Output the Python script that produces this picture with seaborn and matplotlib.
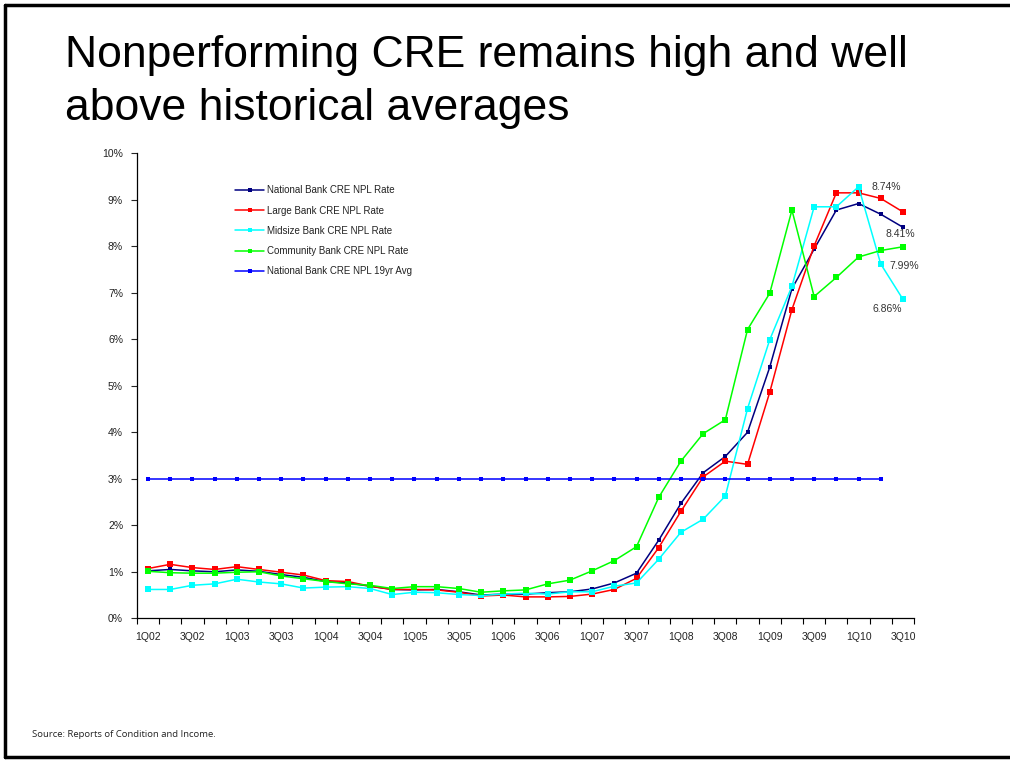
import numpy as np
import pandas as pd
import seaborn as sns
import matplotlib.pyplot as plt
from matplotlib.ticker import FixedLocator, FuncFormatter
from matplotlib.lines import Line2D

# --- data ---
quarters = [f"{q}Q{y:02d}" for y in range(2, 11) for q in range(1, 5)][:35]

national = [1.02, 1.05, 1.02, 1.00, 1.04, 1.01, 0.94, 0.88, 0.79, 0.76, 0.69, 0.62, 0.61,
            0.62, 0.57, 0.50, 0.52, 0.52, 0.55, 0.57, 0.63, 0.76, 0.97, 1.68,
            2.47, 3.13, 3.48, 4.00, 5.40, 7.09, 7.94, 8.78, 8.92, 8.69, 8.41]
large = [1.07, 1.16, 1.09, 1.05, 1.11, 1.05, 0.99, 0.93, 0.81, 0.79, 0.69, 0.62, 0.62,
         0.61, 0.56, 0.48, 0.50, 0.46, 0.46, 0.47, 0.52, 0.62, 0.86, 1.52,
         2.30, 3.04, 3.38, 3.31, 4.86, 6.64, 8.01, 9.15, 9.15, 9.03, 8.74]
midsize = [0.62, 0.62, 0.71, 0.74, 0.84, 0.78, 0.74, 0.65, 0.67, 0.68, 0.64, 0.51, 0.56,
           0.55, 0.51, 0.49, 0.52, 0.54, 0.52, 0.57, 0.57, 0.69, 0.76, 1.27,
           1.85, 2.13, 2.63, 4.51, 5.99, 7.14, 8.85, 8.85, 9.28, 7.62, 6.86]
community = [1.01, 0.98, 0.97, 0.97, 0.99, 1.00, 0.91, 0.85, 0.79, 0.74, 0.71, 0.64, 0.68,
             0.68, 0.64, 0.56, 0.59, 0.61, 0.74, 0.82, 1.02, 1.24, 1.54, 2.60,
             3.38, 3.97, 4.27, 6.21, 6.99, 8.78, 6.92, 7.33, 7.77, 7.91, 7.99]
avg_19yr = [3.0] * 34 + [np.nan]

series_names = ["National Bank CRE NPL Rate", "Large Bank CRE NPL Rate",
                "Midsize Bank CRE NPL Rate", "Community Bank CRE NPL Rate",
                "National Bank CRE NPL 19yr Avg"]
end_labels = ["8.74%", "8.41%", "7.99%", "6.86%"]
title_lines = ["Nonperforming CRE remains high and well", "above historical averages"]

# --- styling ---
sns.set_style("ticks")
plt.rcParams['font.family'] = ['Liberation Sans', 'DejaVu Sans']

colores = ["#000080", "#FF0000", "#00FFFF", "#00FF00", "#0000FF"]
tam_marcador = [3.0, 4.5, 4.5, 4.0, 3.5]
valores = [national, large, midsize, community, avg_19yr]

x = np.arange(len(quarters))
df = pd.DataFrame({"x": np.tile(x, 5),
                   "valor": np.concatenate(valores),
                   "serie": np.repeat(series_names, len(x))})

fig = plt.figure(figsize=(10.10, 7.67), dpi=100)
ax = fig.add_axes([0.1356, 0.1939, 0.905 - 0.1356, 0.8001 - 0.1939])

for nombre, color, ms in zip(series_names, colores, tam_marcador):
    sub = df[df["serie"] == nombre].dropna()
    sns.lineplot(data=sub, x="x", y="valor", color=color, marker="s",
                 markersize=ms, markeredgewidth=0, linewidth=1.1, ax=ax)

ax.set_xlim(-0.5, len(x) - 0.5)
ax.set_ylim(0, 10)
ax.set_xlabel("")
ax.set_ylabel("")

ax.xaxis.set_major_locator(FixedLocator(x[::2]))
ax.set_xticklabels(quarters[::2], fontsize=7.5, color="#222222")
ax.xaxis.set_minor_locator(FixedLocator(np.arange(-0.5, len(x), 1.0)))
ax.tick_params(axis="x", which="major", length=0, pad=10)
ax.tick_params(axis="x", which="minor", length=4, width=0.8, color="black", direction="out")

ax.yaxis.set_major_locator(FixedLocator(np.arange(0, 11, 1)))
ax.yaxis.set_major_formatter(FuncFormatter(lambda v, p: f"{v:.0f}%"))
ax.tick_params(axis="y", length=4, width=0.8, direction="out", labelsize=7.5,
               labelcolor="#222222", pad=6)

sns.despine(ax=ax)
for lado in ["left", "bottom"]:
    ax.spines[lado].set_color("black")
    ax.spines[lado].set_linewidth(0.9)

# end-of-series value labels
offsets = [(-12, 18), (-2, -5), (1, -14), (-11, -7)]
finales = [large[-1], national[-1], community[-1], midsize[-1]]
for texto, yv, (dx, dy) in zip(end_labels, finales, offsets):
    ax.annotate(texto, xy=(x[-1], yv), xytext=(dx, dy), textcoords="offset points",
                ha="center", va="center", fontsize=7.5, color="#333333")

# legend
manejadores = [Line2D([0], [0], color=c, marker="s", markersize=3, markeredgewidth=0,
                      linewidth=1.1) for c in colores]
ax.legend(manejadores, series_names, loc="upper left", bbox_to_anchor=(0.115, 0.95),
          frameon=False, fontsize=7, handlelength=3.0, handletextpad=0.3,
          labelspacing=1.05, labelcolor="#222222")

# title (two lines placed separately) and source
fig.text(0.064, 1 - 67 / 767, title_lines[0], fontsize=32, ha="left", va="baseline",
         color="black")
fig.text(0.064, 1 - 120 / 767, title_lines[1], fontsize=32, ha="left", va="baseline",
         color="black")
fig.text(0.032, 0.043, "Source: Reports of Condition and Income.", fontsize=6.8,
         ha="left", va="center", family=["Open Sans", "DejaVu Sans"], color="#222222")

# slide frame
fig.add_artist(Line2D([0.005, 1.0], [0.993, 0.993], color="black", linewidth=2.5,
                      transform=fig.transFigure))
fig.add_artist(Line2D([0.005, 0.005], [0.013, 0.993], color="black", linewidth=2.5,
                      transform=fig.transFigure))
fig.add_artist(Line2D([0.005, 1.0], [0.013, 0.013], color="black", linewidth=2.5,
                      transform=fig.transFigure))

fig.savefig("out.png", dpi=100)
plt.close(fig)
